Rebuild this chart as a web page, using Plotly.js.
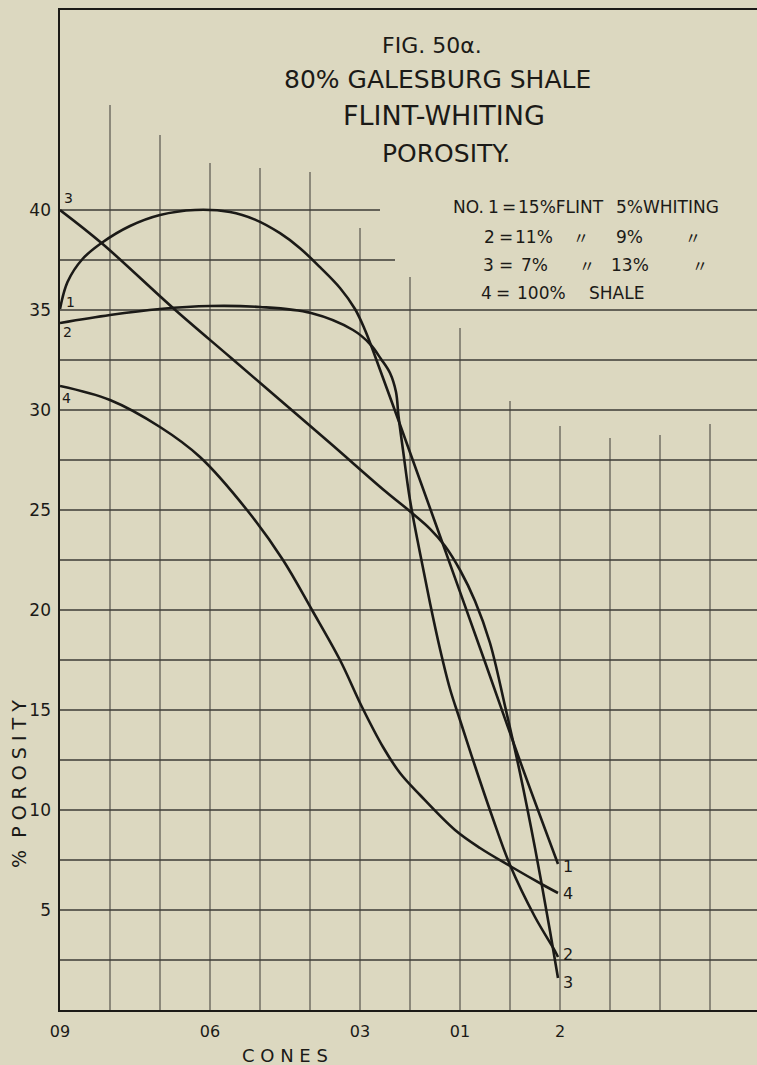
<!DOCTYPE html>
<html>
<head>
<meta charset="utf-8">
<script src="https://cdn.plot.ly/plotly-3.0.1.min.js"></script>
<style>
html,body{margin:0;padding:0;background:#dcd8c0;}
#chart{width:757px;height:1065px;}
</style>
</head>
<body>
<div id="chart"></div>
<script>
// ---------- DATA ----------
const cones = ["09","08","07","06","05","04","03","02","01","1","2","3","4","5"];
const labeledCones = ["09","06","03","01","2"];
const porosityTicks = [5,10,15,20,25,30,35,40];
const curveNames = ["1","2","3","4"];

// x = position along the cone scale (0 = cone 09, 1 = cone 08, ...)
const curve1X = [0,0.15,0.45,0.83,1.4,2.0,2.7,3.4,3.9,4.4,4.8,5.2,5.6,5.9,6.1,6.3,6.76,7.5,8.5,9.2,9.96];
const curve1Y = [35.05,36.4,37.55,38.35,39.2,39.75,40.0,39.9,39.52,38.84,38.09,37.14,36.1,35.05,34.0,32.7,29.55,24.4,17.4,12.45,7.3];

const curve2X = [0,1,2,3,4,5.02,5.86,6.2,6.42,6.6,6.72,6.77,6.86,7.0,7.2,7.4,7.6,7.8,8.0,8.3,8.64,9.0,9.5,9.9,9.96];
const curve2Y = [34.35,34.75,35.05,35.2,35.15,34.85,34.0,33.3,32.55,31.85,30.9,29.7,28.0,25.5,22.85,20.35,18.05,16.05,14.5,12.2,9.7,7.25,4.65,2.95,2.65];

const curve3X = [0,0.83,2.26,3.4,4.4,5.4,6.5,7.04,7.4,7.7,8.0,8.3,8.6,8.9,9.2,9.5,9.8,9.96];
const curve3Y = [40.0,38.35,35.1,32.65,30.5,28.35,25.95,24.85,24.06,23.2,22.0,20.45,18.35,15.2,11.85,8.1,3.95,1.6];

const curve4X = [0,1,2,2.8,3.74,4.46,5.04,5.6,6.04,6.46,6.8,7.2,7.9,8.4,9.0,9.7,9.96];
const curve4Y = [31.2,30.5,29.15,27.65,25.0,22.5,20.0,17.5,15.15,13.15,11.85,10.75,9.0,8.1,7.2,6.2,5.85];

const titleLines = ["FIG. 50\u03b1.","80% GALESBURG SHALE","FLINT-WHITING","POROSITY."];
const legendLines = [
  "NO. 1 = 15%FLINT 5%WHITING",
  "2 = 11% \u3003 9% \u3003",
  "3 = 7% \u3003 13% \u3003",
  "4 = 100% SHALE"
];
const xTitle = "C O N E S";
const yTitle = "%  P O R O S I T Y";

// ---------- STYLE / LAYOUT ----------
const INK = "#1b1a17";
const GRID = "#3c3b36";
const BG = "#dcd8c0";
const FONT = "DejaVu Sans, Liberation Sans, sans-serif";
const DITTO_FONT = "Noto Sans CJK JP, DejaVu Sans, sans-serif";

// plot area in pixels
const L = 60, T = 10, W = 697, H = 1000;
const px2paperX = px => (px - L) / W;
const px2paperY = py => (T + H - py) / H;

const xMax = W / 50;   // 50 px per cone
const yMax = 50;       // 20 px per percent

// vertical grid line tops (in % units) per cone position 1..13 (irregular, as drawn)
const gridTops = [45.25,43.75,42.35,42.1,41.9,39.1,36.65,34.1,30.45,29.2,28.6,28.75,29.3];
const hGridRight = {40: 6.4, 37.5: 6.7};

const shapes = [];
gridTops.forEach((top, k) => {
  const i = k + 1;
  shapes.push({type:"line", xref:"x", yref:"y", x0:i, x1:i, y0:0, y1:top,
    line:{color:GRID, width:1}, layer:"below"});
});
for (let v = 2.5; v <= 40; v += 2.5) {
  const right = hGridRight[v] !== undefined ? hGridRight[v] : xMax;
  shapes.push({type:"line", xref:"x", yref:"y", x0:0, x1:right, y0:v, y1:v,
    line:{color:GRID, width:1.3}, layer:"below"});
}

const curves = [[curve1X,curve1Y],[curve2X,curve2Y],[curve3X,curve3Y],[curve4X,curve4Y]];
const traces = curves.map((c, k) => ({
  x: c[0], y: c[1], type:"scatter", mode:"lines", name: curveNames[k],
  line:{color:INK, width:2.6, shape:"spline", smoothing:1},
  hoverinfo:"skip", showlegend:false
}));

const annotations = [];
// title
const titlePos = [[432,45,22],[437,80,25],[444,116,27],[446,153,25]];
titleLines.forEach((t, k) => {
  annotations.push({text:t, xref:"paper", yref:"paper",
    x:px2paperX(titlePos[k][0]), y:px2paperY(titlePos[k][1]),
    xanchor:"center", yanchor:"middle", showarrow:false,
    font:{family:FONT, size:titlePos[k][2], color:INK}});
});
// legend block, token by token (left edges in px)
const legendTokenX = [
  [452,487,501,517,615],
  [483,498,514,572,615,684],
  [482,498,520,578,610,691],
  [480,495,516,588]
];
const legendY = [207,237,265,293];
legendLines.forEach((line, r) => {
  line.split(" ").forEach((tok, c) => {
    const ditto = tok === "\u3003";
    annotations.push({text:tok, xref:"paper", yref:"paper",
      x:px2paperX(legendTokenX[r][c]), y:px2paperY(legendY[r]),
      xanchor:"left", yanchor:"middle", showarrow:false, borderpad:0,
      font:{family: ditto ? DITTO_FONT : FONT, size: ditto ? 16 : 17, color:INK}});
  });
});
// curve-number labels at both ends of each curve
const startShift = [[4,7],[1,-9],[2,12],[0,-12]];
const endShift = [[3,-2],[3,3],[3,-4],[3,0]];
curves.forEach((c, k) => {
  const n = c[0].length;
  annotations.push({text:curveNames[k], x:c[0][0], y:c[1][0], xref:"x", yref:"y",
    xanchor:"left", yanchor:"middle", showarrow:false,
    xshift:startShift[k][0], yshift:startShift[k][1],
    font:{family:FONT, size:14, color:INK}});
  annotations.push({text:curveNames[k], x:c[0][n-1], y:c[1][n-1], xref:"x", yref:"y",
    xanchor:"left", yanchor:"middle", showarrow:false,
    xshift:endShift[k][0], yshift:endShift[k][1],
    font:{family:FONT, size:16, color:INK}});
});
// axis titles
annotations.push({text:xTitle, xref:"paper", yref:"paper",
  x:px2paperX(285), y:px2paperY(1055), xanchor:"center", yanchor:"middle",
  showarrow:false, font:{family:FONT, size:18, color:INK}});
annotations.push({text:yTitle, xref:"paper", yref:"paper",
  x:px2paperX(19), y:px2paperY(784), xanchor:"center", yanchor:"middle",
  textangle:-90, showarrow:false, font:{family:FONT, size:19, color:INK}});

const layout = {
  width:757, height:1065,
  margin:{l:L, r:757-L-W, t:T, b:1065-T-H, pad:0},
  paper_bgcolor:BG, plot_bgcolor:BG,
  showlegend:false,
  xaxis:{range:[0,xMax], showgrid:false, zeroline:false,
    showline:true, linecolor:INK, linewidth:2, mirror:true,
    tickmode:"array",
    tickvals: labeledCones.map(c => cones.indexOf(c)),
    ticktext: labeledCones,
    ticks:"", ticklabelstandoff:6,
    tickfont:{family:FONT, size:16, color:INK}},
  yaxis:{range:[0,yMax], showgrid:false, zeroline:false,
    showline:true, linecolor:INK, linewidth:1.6,
    tickmode:"array", tickvals:porosityTicks, ticktext:porosityTicks.map(String),
    ticks:"", ticklabelstandoff:4,
    tickfont:{family:FONT, size:17, color:INK}},
  shapes:shapes,
  annotations:annotations
};

Plotly.newPlot("chart", traces, layout, {staticPlot:true, displayModeBar:false});
</script>
</body>
</html>
